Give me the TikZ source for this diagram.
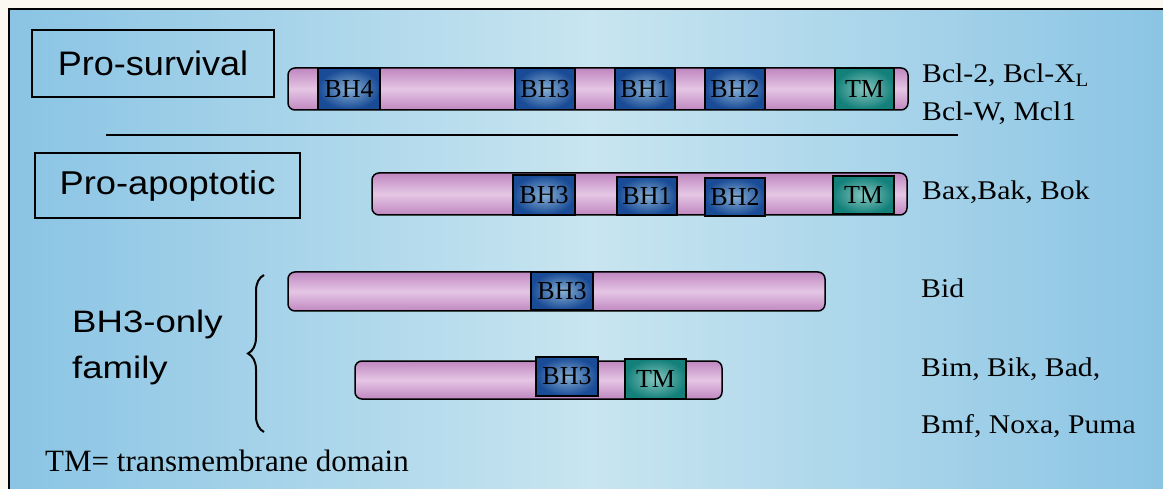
\documentclass[tikz,border=0pt]{standalone}
\usepackage{fontspec}
\usepackage{graphicx}
\setmainfont{Liberation Serif}
\newfontfamily\hel{Liberation Sans}
\usetikzlibrary{decorations.pathreplacing}
\definecolor{paper}{RGB}{250,248,240}
\definecolor{bgA}{RGB}{138,196,228}
\definecolor{bgB}{RGB}{200,229,240}
\definecolor{pinkA}{RGB}{192,135,192}
\definecolor{pinkB}{RGB}{228,198,228}
\definecolor{bhA}{RGB}{25,75,150}
\definecolor{bhB}{RGB}{135,175,212}
\definecolor{tmA}{RGB}{20,128,122}
\definecolor{tmB}{RGB}{135,198,192}
\tikzset{
  bar/.style={draw, line width=1.5pt, rounded corners=7pt, top color=pinkA, bottom color=pinkA, middle color=pinkB, inner sep=0pt},
  bhdom/.style={draw, line width=1.3pt, inner color=bhB, outer color=bhA, inner sep=0pt, text=black, font=\fontsize{26}{28}\selectfont},
  tmdom/.style={draw, line width=1.3pt, inner color=tmB, outer color=tmA, inner sep=0pt, text=black, font=\fontsize{26}{28}\selectfont},
  catbox/.style={draw, line width=1.2pt, inner sep=0pt},
  rlab/.style={anchor=base west, inner sep=0pt, font=\fontsize{27}{32}\selectfont},
  slab/.style={anchor=base west, inner sep=0pt},
}
\begin{document}
\begin{tikzpicture}[x=1pt,y=-1pt]
\useasboundingbox (0,0) rectangle (1163,489);
\fill[paper] (0,0) rectangle (1163,489);
\shade[left color=bgA, right color=bgA, middle color=bgB] (9,9) rectangle (1175,500);
\draw[line width=1.8pt] (9,500) -- (9,9) -- (1175,9);

% category boxes
\node[catbox, minimum width=242pt, minimum height=67pt, font=\hel\fontsize{34}{36}\selectfont] (surv) at (153,63.5) {\scalebox{1.06}[1]{Pro-survival}};
\node[catbox, minimum width=265pt, minimum height=65pt, font=\hel\fontsize{33}{36}\selectfont] (apop) at (167.5,185.5) {\scalebox{1.1}[1]{Pro-apoptotic}};
\coordinate (l1) at (106,135);
\coordinate (l2) at (958,135);
\draw[line width=1.5pt] (l1) -- (l2);

% row 1
\node[bar, minimum width=620pt, minimum height=42pt] (bar1) at (598,89) {};
\node[bhdom, minimum width=62pt, minimum height=41pt] (r1bh4) at (349,89) {BH4};
\node[bhdom, minimum width=60pt, minimum height=41pt] (r1bh3) at (545,89) {BH3};
\node[bhdom, minimum width=60pt, minimum height=41pt] (r1bh1) at (645,89) {BH1};
\node[bhdom, minimum width=60pt, minimum height=41pt] (r1bh2) at (735,89) {BH2};
\node[tmdom, minimum width=59pt, minimum height=41pt] (r1tm) at (864.5,89) {TM};

% row 2
\node[bar, minimum width=535pt, minimum height=42pt] (bar2) at (639.5,194) {};
\node[bhdom, minimum width=62pt, minimum height=40pt] (r2bh3) at (544,195) {BH3};
\node[bhdom, minimum width=60pt, minimum height=38pt] (r2bh1) at (647,196) {BH1};
\node[bhdom, minimum width=60pt, minimum height=38pt] (r2bh2) at (735,197) {BH2};
\node[tmdom, minimum width=61pt, minimum height=38pt] (r2tm) at (863.5,195) {TM};

% row 3
\node[bar, minimum width=537pt, minimum height=39pt] (bar3) at (556.5,291.5) {};
\node[bhdom, minimum width=62pt, minimum height=38pt] (r3bh3) at (562,291) {BH3};

% row 4
\node[bar, minimum width=367pt, minimum height=38pt] (bar4) at (538.5,380) {};
\node[bhdom, minimum width=62pt, minimum height=39pt] (r4bh3) at (567,376.5) {BH3};
\node[tmdom, minimum width=61pt, minimum height=40pt] (r4tm) at (655.5,379) {TM};

% brace
\coordinate (brb) at (264,432);
\coordinate (brt) at (264,275);
\draw[line width=2pt, decorate, decoration={brace, amplitude=16pt}] (brb) -- (brt);

% left labels
\node[slab, font=\hel\fontsize{31}{34}\selectfont] (bh3only) at (72,333) {\scalebox{1.18}[1]{BH3-only}};
\node[slab, font=\hel\fontsize{31}{34}\selectfont] (family) at (72,378) {\scalebox{1.18}[1]{family}};
\node[slab, font=\fontsize{31}{34}\selectfont] (tmdef) at (45,471) {TM= transmembrane domain};

% right labels
\node[rlab] (n1) at (922,83) {\scalebox{1.1}[1]{Bcl-2, Bcl-X\textsubscript{L}}};
\node[rlab] (n2) at (922,121) {\scalebox{1.1}[1]{Bcl-W, Mcl1}};
\node[rlab] (n3) at (922,200) {\scalebox{1.1}[1]{Bax,Bak, Bok}};
\node[rlab] (n4) at (921,298) {\scalebox{1.1}[1]{Bid}};
\node[rlab] (n5) at (921,377) {\scalebox{1.1}[1]{Bim, Bik, Bad,}};
\node[rlab] (n6) at (921,433) {\scalebox{1.1}[1]{Bmf, Noxa, Puma}};
\end{tikzpicture}
\end{document}
